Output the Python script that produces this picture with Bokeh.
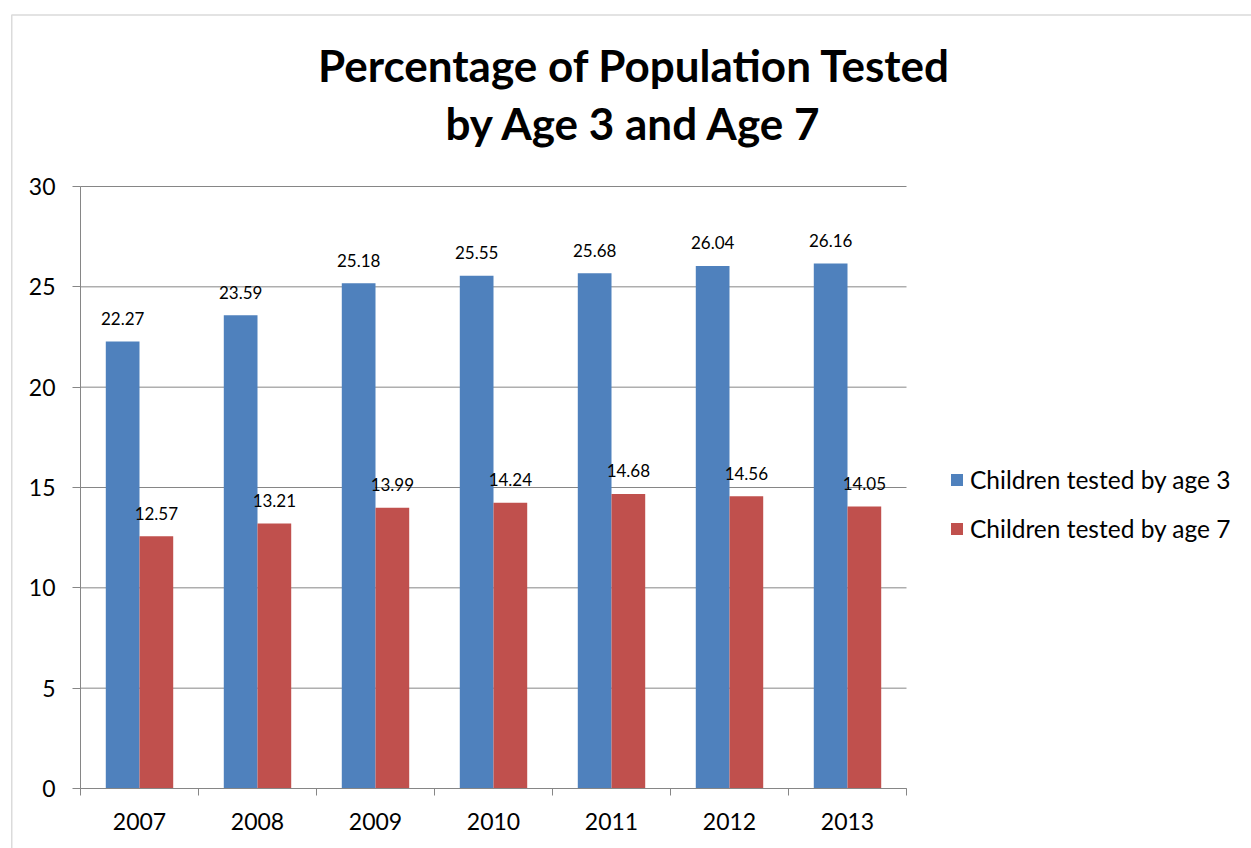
from bokeh.plotting import figure
from bokeh.models import (ColumnDataSource, Range1d, FixedTicker, Label, LinearAxis,
                          BoxAnnotation, Legend, LegendItem)
from bokeh.core.properties import value
from bokeh.embed import file_html
from bokeh.resources import INLINE

# ---- data ----
years = ["2007", "2008", "2009", "2010", "2011", "2012", "2013"]
tested_age3 = [22.27, 23.59, 25.18, 25.55, 25.68, 26.04, 26.16]
tested_age7 = [12.57, 13.21, 13.99, 14.24, 14.68, 14.56, 14.05]
series_names = ["Children tested by age 3", "Children tested by age 7"]
y_ticks = [0, 5, 10, 15, 20, 25, 30]
title_lines = ["Percentage of Population Tested", "by Age 3 and Age 7"]

# ---- page geometry (pixels) ----
W, H = 1251, 848
PL, PR, PT, PB = 80, 906, 186, 788      # plot area edges
Y_MAX = y_ticks[-1]
N = len(years)

FONT = "Lato"
BLUE = "#4F81BD"
RED = "#C0504D"
GREY = "#868686"

# the frame covers the whole canvas; ranges are chosen so that the
# plot area [0, N] x [0, Y_MAX] lands on the pixel box above
px_x = (PR - PL) / N
px_y = (PB - PT) / Y_MAX
x0 = -PL / px_x
y0 = -(H - PB) / px_y
x_range = Range1d(x0, x0 + W / px_x)
y_range = Range1d(y0, y0 + H / px_y)

bar_w = 0.2857
centers = [i + 0.5 for i in range(N)]
src = ColumnDataSource(dict(
    year=years,
    x3=[c - bar_w / 2 for c in centers],
    x7=[c + bar_w / 2 for c in centers],
    v3=tested_age3,
    v7=tested_age7,
    t3=[f"{v:.2f}" for v in tested_age3],
    t7=[f"{v:.2f}" for v in tested_age7],
))

p = figure(width=W, height=H, output_backend="svg", toolbar_location=None,
           x_range=x_range, y_range=y_range,
           x_axis_type=None, y_axis_type=None, min_border=0)
p.title.visible = False
p.outline_line_color = None
p.background_fill_color = "white"
p.border_fill_color = "white"

# horizontal gridlines across the plot area
p.segment(x0=[0] * len(y_ticks), x1=[N] * len(y_ticks), y0=y_ticks, y1=y_ticks,
          line_color=GREY, line_width=1)

r3 = p.vbar(x="x3", top="v3", width=bar_w, source=src, fill_color=BLUE, line_color=None)
r7 = p.vbar(x="x7", top="v7", width=bar_w, source=src, fill_color=RED, line_color=None)

# value labels over the bars
for xcol, ycol, tcol in (("x3", "v3", "t3"), ("x7", "v7", "t7")):
    p.text(x=xcol, y=ycol, text=tcol, source=src, y_offset=-23,
           text_align="center", text_baseline="alphabetic",
           text_font=value(FONT), text_font_size="17px", text_color="black")

# axes pinned to the plot-area edges
xa = LinearAxis(fixed_location=0, bounds=(0, N))
xa.ticker = FixedTicker(ticks=centers, minor_ticks=list(range(N + 1)))
xa.major_label_overrides = {c: y for c, y in zip(centers, years)}
xa.major_tick_out = 0
xa.major_tick_in = 0
xa.minor_tick_out = 7
xa.minor_tick_in = 0
xa.minor_tick_line_color = GREY
xa.axis_line_color = GREY
xa.major_label_standoff = 17
xa.major_label_text_font = FONT
xa.major_label_text_font_size = "23px"
xa.major_label_text_color = "black"
p.add_layout(xa, "below")

ya = LinearAxis(fixed_location=0, bounds=(0, Y_MAX))
ya.ticker = FixedTicker(ticks=y_ticks)
ya.major_tick_out = 8
ya.major_tick_in = 0
ya.minor_tick_out = 0
ya.minor_tick_in = 0
ya.major_tick_line_color = GREY
ya.axis_line_color = GREY
ya.major_label_standoff = 17
ya.major_label_text_font = FONT
ya.major_label_text_font_size = "23px"
ya.major_label_text_color = "black"
p.add_layout(ya, "left")

# chart border
p.add_layout(BoxAnnotation(left=11.25, right=W + 40, top=H - 14.5, bottom=-40,
                           left_units="screen", right_units="screen",
                           top_units="screen", bottom_units="screen",
                           fill_color=None, line_color="#888888", line_width=1.5))

# two-line title (screen y measured upward from the bottom edge)
for txt, yb in zip(title_lines, [H - 64, H - 122]):
    p.add_layout(Label(x=634, y=yb, x_units="screen", y_units="screen", text=txt,
                       text_align="center", text_baseline="alphabetic",
                       text_font=FONT, text_font_style="bold",
                       text_font_size="44px", text_color="black"))

legend = Legend(items=[LegendItem(label=series_names[0], renderers=[r3]),
                       LegendItem(label=series_names[1], renderers=[r7])],
                location=(949, H - 543.5), orientation="vertical",
                glyph_width=15, glyph_height=15, label_standoff=6,
                label_height=30, spacing=19, padding=0, margin=0,
                border_line_color=None, background_fill_alpha=0,
                label_text_font=FONT, label_text_font_size="24.5px",
                label_text_color="black")
p.add_layout(legend)

open("out.html", "w").write(file_html(p, INLINE))
